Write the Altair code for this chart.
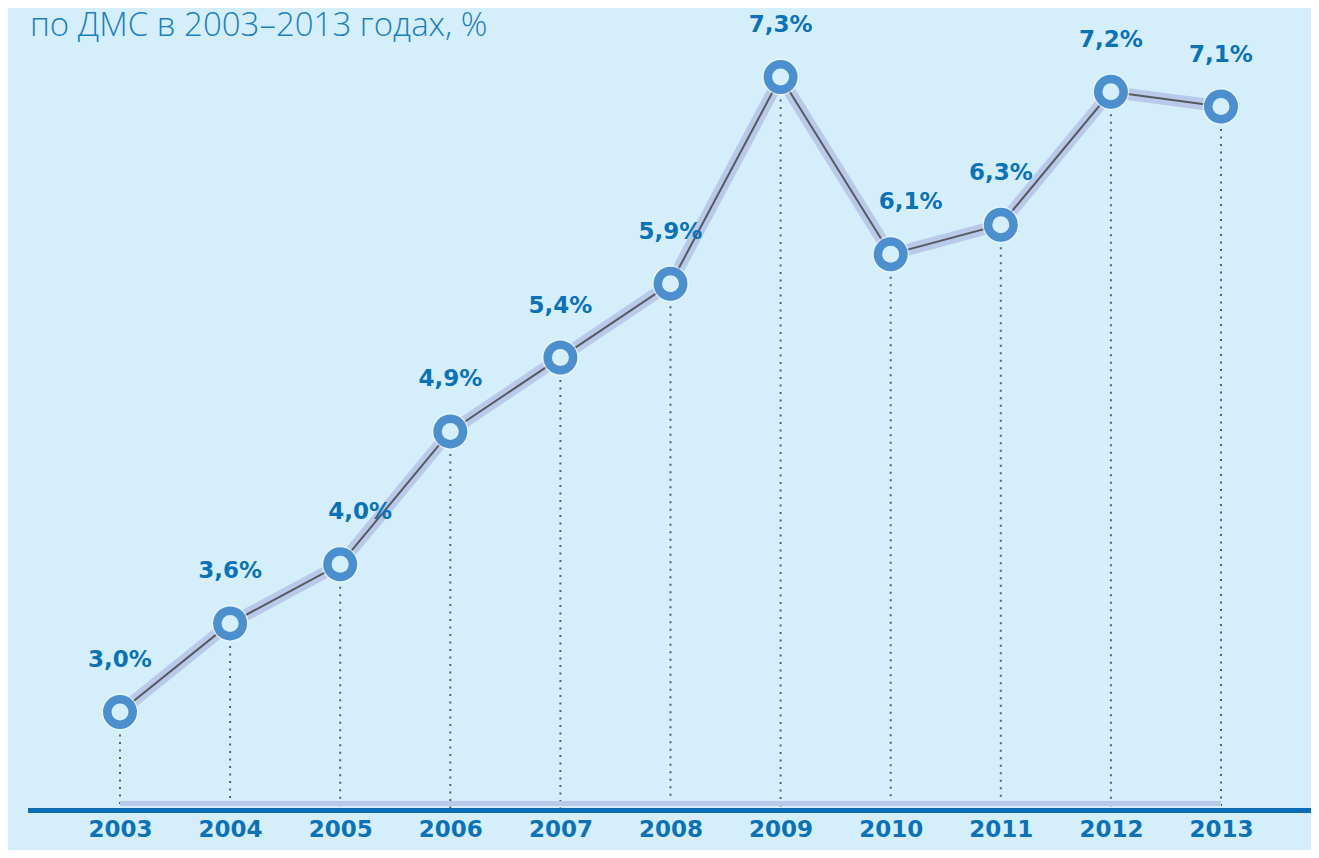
import altair as alt
import pandas as pd

years = [2003, 2004, 2005, 2006, 2007, 2008, 2009, 2010, 2011, 2012, 2013]
values = [3.0, 3.6, 4.0, 4.9, 5.4, 5.9, 7.3, 6.1, 6.3, 7.2, 7.1]
labels = ["3,0%", "3,6%", "4,0%", "4,9%", "5,4%", "5,9%", "7,3%", "6,1%", "6,3%", "7,2%", "7,1%"]
title_text = "по ДМС в 2003–2013 годах, %"

BG = "#d4effb"
BLUE = "#0b72b9"
MARK_BLUE = "#4b8fcf"
LAV = "#b9c9ea"

df = pd.DataFrame({"year": years, "value": values, "label": labels})

xs = alt.Scale(domain=[2003, 2013], range=[112, 1213])
ys = alt.Scale(domain=[3.0, 7.3], range=[704, 69])

X = alt.X("year:Q", scale=xs,
          axis=alt.Axis(values=years, format="d", title=None, domain=False, ticks=False,
                        tickSize=0, grid=False, labelPadding=7, offset=-39,
                        labelFlush=False, labelOverlap=False,
                        labelFont="DejaVu Sans", labelFontWeight="bold", labelFontSize=23,
                        labelColor=BLUE))
Y = alt.Y("value:Q", scale=ys, axis=None)

base = alt.Chart(df)

dotted = base.mark_rule(color="#5e5e5e", strokeWidth=2, strokeDash=[2, 5.5]).encode(
    x=X, y=Y, y2=alt.value(800))

band = alt.Chart(pd.DataFrame({"year": [years[0]], "year2": [years[-1]]})).mark_rule(
    color=LAV, strokeWidth=5).encode(
    x=X, x2="year2:Q", y=alt.value(795.5))

baseline = alt.Chart(pd.DataFrame({"a": [0]})).mark_rule(
    color="#0b6fb8", strokeWidth=5).encode(
    x=alt.value(20), x2=alt.value(1305), y=alt.value(802.5))

line_under = base.mark_line(color=LAV, strokeWidth=12).encode(x=X, y=Y)
line_top = base.mark_line(color="#56595e", strokeWidth=2).encode(x=X, y=Y)

halo = base.mark_point(shape="circle", filled=True, color="#eef9fe", opacity=0.7,
                       size=1369).encode(x=X, y=Y)
ring = base.mark_point(shape="circle", filled=True, color=MARK_BLUE, opacity=1,
                       size=1156).encode(x=X, y=Y)
hole = base.mark_point(shape="circle", filled=True, color=BG, opacity=1,
                       size=289).encode(x=X, y=Y)

shift_cond = "datum.year == 2005 || datum.year == 2010"
lab_main = base.transform_filter("!(" + shift_cond + ")").mark_text(
    font="DejaVu Sans", fontWeight="bold", fontSize=23, color=BLUE,
    baseline="middle", align="center", dy=-52).encode(x=X, y=Y, text="label:N")
lab_shift = base.transform_filter(shift_cond).mark_text(
    font="DejaVu Sans", fontWeight="bold", fontSize=23, color=BLUE,
    baseline="middle", align="center", dy=-52, dx=20).encode(x=X, y=Y, text="label:N")

title = alt.Chart(pd.DataFrame({"t": [title_text]})).mark_text(
    font="Open Sans", fontWeight=300, fontSize=33, color="#1b7fc4",
    align="left", baseline="alphabetic").encode(
    text="t:N", x=alt.value(22), y=alt.value(28))

chart = alt.layer(dotted, band, baseline, line_under, line_top, halo, ring, hole,
                  lab_main, lab_shift, title).properties(
    width=1303, height=842, background=BG, padding=0,
    autosize=alt.AutoSizeParams(type="none")
).configure_view(stroke=None)

chart.save("out.html", embed_options={"renderer": "svg", "actions": False})
